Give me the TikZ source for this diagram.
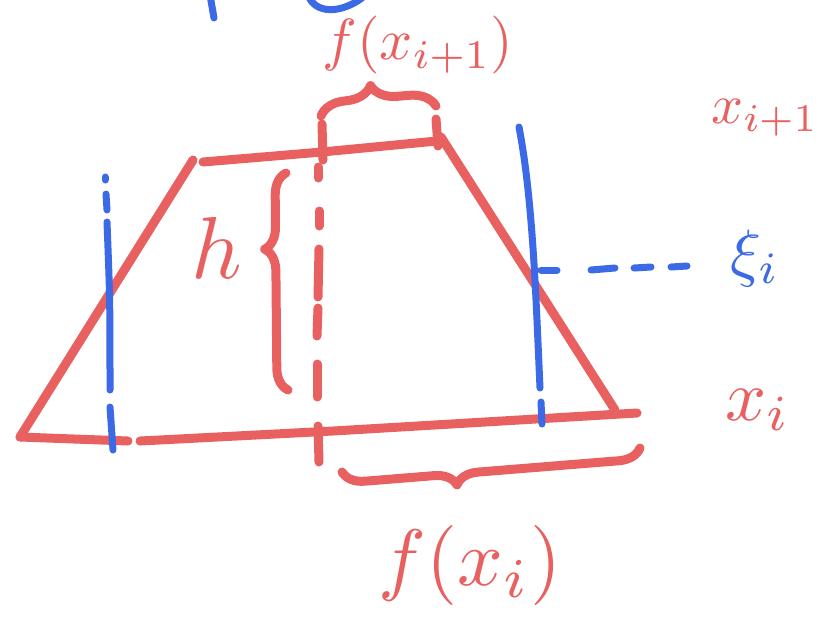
\documentclass[tikz,border=0pt]{standalone}
\usepackage{graphicx}
\usetikzlibrary{decorations.pathreplacing}
\definecolor{mred}{RGB}{232,96,96}
\definecolor{mblue}{RGB}{60,105,230}
\begin{document}
\begin{tikzpicture}[x=1pt,y=-1pt,
  redline/.style={draw=mred,line width=9pt,line cap=round,line join=round},
  blueline/.style={draw=mblue,line width=7pt,line cap=round,line join=round},
  redbrace/.style={redline,decorate},
  redtext/.style={text=mred,inner sep=0pt},
  bluetext/.style={text=mblue,inner sep=0pt}]
\useasboundingbox (0,0) rectangle (834,627);
% corners
\coordinate (BL) at (20,437);
\coordinate (TL) at (193,160);
\coordinate (TLs) at (203,162);
\coordinate (TM) at (322,152);
\coordinate (TR) at (437,141);
\coordinate (TRs) at (441,137);
\coordinate (BR) at (615,410);
\coordinate (BLe) at (128,441);
\coordinate (BMs) at (140,441);
\coordinate (BM) at (333,431);
\coordinate (BRe) at (637,413);
% trapezoid
\draw[redline] (BL) -- (TL);
\draw[redline] (TLs) -- (TM) -- (TR);
\draw[redline] (TRs) -- (BR);
\draw[redline] (BL) -- (BLe);
\draw[redline] (BMs) -- (BM) -- (BRe);
% ticks
\draw[redline] (322,124) -- (323,160);
\draw[redline] (436,119) -- (438,146);
\draw[redline] (318,426) -- (319,462);
% dash-dot middle line
\draw[redline] (318,167) -- (318,178);
\draw[redline] (319,211) -- (319,226);
\draw[redline] (319,249) -- (318,297);
\draw[redline] (318,308) -- (317,336);
\draw[redline] (317,364) -- (317,397);
% braces
\draw[redbrace,decoration={brace,amplitude=22pt,aspect=0.65}] (288,390) -- (286,173);
\draw[redbrace,decoration={brace,amplitude=26pt,aspect=0.45}] (321,116) -- (436,106);
\draw[redbrace,decoration={brace,amplitude=22pt,aspect=0.62}] (640,448) -- (342,472);
% blue left line
\draw[blueline] (105,177) -- (105,180);
\draw[blueline] (106,194) -- (107,210);
\draw[blueline] (107,222) .. controls (110,300) .. (110,390);
\draw[blueline] (110,407) -- (113,450);
% blue right line
\draw[blueline] (519,127) .. controls (533,200) and (536,300) .. (540,388);
\draw[blueline] (541,402) -- (542,424);
% blue dashes
\draw[blueline] (541,270) -- (557,270);
\draw[blueline] (591,270) -- (615,268);
\draw[blueline] (634,268) -- (651,267);
\draw[blueline] (671,267) -- (687,266);
% blue fragments at top
\draw[blueline] (210,-5) -- (214,18);
\draw[blueline] (308,-5) .. controls (315,14) and (340,14) .. (362,-2);
% labels
\node[redtext] (fxi1) at (418,45) {\scalebox{5.8}{$f(x_{i+1})$}};
\node[redtext] (xi1) at (765,118) {\scalebox{5.6}{$x_{i+1}$}};
\node[bluetext] (xii) at (755,258) {\scalebox{6.4}{$\xi_i$}};
\node[redtext] (xi) at (758,410) {\scalebox{7.2}{$x_i$}};
\node[redtext] (h) at (217,248) {\scalebox{8.8}{$h$}};
\node[redtext] (fxi) at (470,565) {\scalebox{8}{$f(x_i)$}};
\end{tikzpicture}
\end{document}
